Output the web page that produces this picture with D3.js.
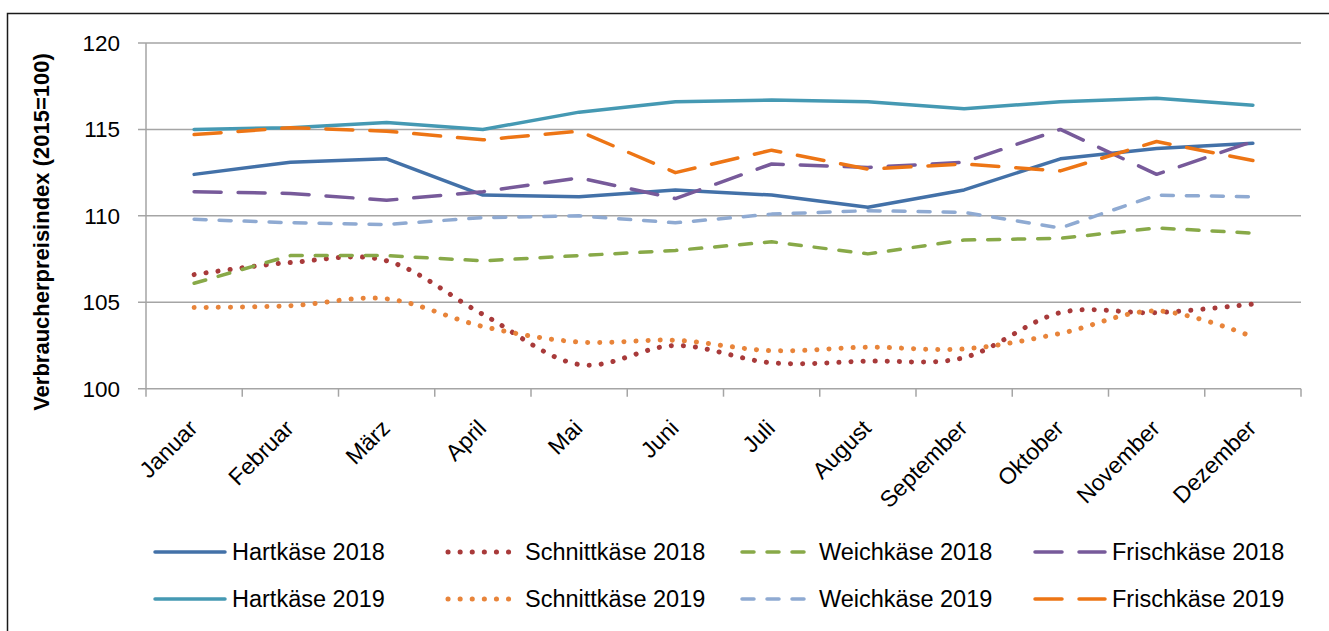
<!DOCTYPE html>
<html lang="de">
<head>
<meta charset="UTF-8">
<script src="https://d3js.org/d3.v7.min.js"></script>
<title>Verbraucherpreisindex Käse</title>
<style>
  body { margin: 0; background: #fff; }
  text { font-family: "Liberation Sans", Arial, sans-serif; fill: #000; }
</style>
</head>
<body>
<div id="chart"></div>
<script>
// months (category axis)
var months = ["Januar", "Februar", "März", "April", "Mai", "Juni", "Juli",
              "August", "September", "Oktober", "November", "Dezember"];
var yTicks = [100, 105, 110, 115, 120];

// index values per series
var hart2018      = [112.4, 113.1, 113.3, 111.2, 111.1, 111.5, 111.2, 110.5, 111.5, 113.3, 113.9, 114.2];
var schnitt2018   = [106.6, 107.3, 107.4, 104.3, 101.4, 102.5, 101.5, 101.6, 101.8, 104.4, 104.4, 104.9];
var weich2018     = [106.1, 107.7, 107.7, 107.4, 107.7, 108.0, 108.5, 107.8, 108.6, 108.7, 109.3, 109.0];
var frisch2018    = [111.4, 111.3, 110.9, 111.4, 112.2, 111.0, 113.0, 112.8, 113.1, 115.0, 112.4, 114.3];
var hart2019      = [115.0, 115.1, 115.4, 115.0, 116.0, 116.6, 116.7, 116.6, 116.2, 116.6, 116.8, 116.4];
var schnitt2019   = [104.7, 104.8, 105.2, 103.6, 102.7, 102.8, 102.2, 102.4, 102.3, 103.2, 104.5, 103.0];
var weich2019     = [109.8, 109.6, 109.5, 109.9, 110.0, 109.6, 110.1, 110.3, 110.2, 109.3, 111.2, 111.1];
var frisch2019    = [114.7, 115.1, 114.9, 114.4, 114.9, 112.5, 113.8, 112.7, 113.0, 112.6, 114.3, 113.2];

var series = [
  { name: "Hartkäse 2018",    values: hart2018,    color: "#4371a8", style: "solid" },
  { name: "Schnittkäse 2018", values: schnitt2018, color: "#a83a3a", style: "dot" },
  { name: "Weichkäse 2018",   values: weich2018,   color: "#88a948", style: "dash" },
  { name: "Frischkäse 2018",  values: frisch2018,  color: "#775a9a", style: "longdash" },
  { name: "Hartkäse 2019",    values: hart2019,    color: "#4599b3", style: "solid" },
  { name: "Schnittkäse 2019", values: schnitt2019, color: "#e8843a", style: "dot" },
  { name: "Weichkäse 2019",   values: weich2019,   color: "#8faad2", style: "dash" },
  { name: "Frischkäse 2019",  values: frisch2019,  color: "#ed7515", style: "longdash" }
];

var width = 1329, height = 631;
var plot = { left: 146, right: 1301, top: 43, bottom: 388.7 };

var svg = d3.select("#chart").append("svg")
    .attr("width", width)
    .attr("height", height);

svg.append("rect").attr("width", width).attr("height", height).attr("fill", "#fff");

// outer frame (runs off right and bottom edge like the original)
svg.append("rect")
    .attr("x", 7.5).attr("y", 13.5)
    .attr("width", 1400).attr("height", 700)
    .attr("fill", "none")
    .attr("stroke", "#1a1a1a")
    .attr("stroke-width", 1.5);

var x = d3.scaleBand().domain(months).range([plot.left, plot.right]).padding(0);
var y = d3.scaleLinear().domain([100, 120]).range([plot.bottom, plot.top]);
var cx = function (i) { return x(months[i]) + x.bandwidth() / 2; };

// gridlines + y tick marks
svg.append("g").selectAll("line")
    .data(yTicks)
    .enter().append("line")
    .attr("x1", plot.left - 8).attr("x2", plot.right)
    .attr("y1", function (d) { return y(d); })
    .attr("y2", function (d) { return y(d); })
    .attr("stroke", "#a5a5a5")
    .attr("stroke-width", 1.5);

// y axis line
svg.append("line")
    .attr("x1", plot.left).attr("x2", plot.left)
    .attr("y1", plot.top).attr("y2", plot.bottom)
    .attr("stroke", "#a5a5a5").attr("stroke-width", 1.5);

svg.append("g").selectAll("text")
    .data(yTicks)
    .enter().append("text")
    .attr("x", 120)
    .attr("y", function (d) { return y(d); })
    .attr("dy", "0.35em")
    .attr("text-anchor", "end")
    .style("font-size", "22.5px")
    .text(function (d) { return d; });

// x axis: ticks between categories
var bounds = months.map(function (m) { return x(m); }).concat([plot.right]);
svg.append("g").selectAll("line")
    .data(bounds)
    .enter().append("line")
    .attr("x1", function (d) { return d; })
    .attr("x2", function (d) { return d; })
    .attr("y1", plot.bottom).attr("y2", plot.bottom + 8)
    .attr("stroke", "#a5a5a5").attr("stroke-width", 1.5);

svg.append("g").selectAll("text")
    .data(months)
    .enter().append("text")
    .attr("transform", function (d, i) {
        return "translate(" + (cx(i) - 1) + "," + 424 + ") rotate(-45)";
    })
    .attr("dy", "0.35em")
    .attr("text-anchor", "end")
    .style("font-size", "23px")
    .text(function (d) { return d; });

// y axis title
svg.append("text")
    .attr("transform", "translate(49,232) rotate(-90)")
    .attr("text-anchor", "middle")
    .style("font-size", "22px")
    .style("font-weight", "bold")
    .text("Verbraucherpreisindex (2015=100)");

function dashFor(style) {
    if (style === "dot") return "0.1,12";
    if (style === "dash") return "12,13";
    if (style === "longdash") return "27,17";
    return null;
}
function widthFor(style) { return style === "dot" ? 5 : 3.5; }

var lineStraight = d3.line()
    .x(function (d, i) { return cx(i); })
    .y(function (d) { return y(d); });
var lineSmooth = d3.line()
    .x(function (d, i) { return cx(i); })
    .y(function (d) { return y(d); })
    .curve(d3.curveCardinal.tension(0));

svg.append("g").selectAll("path")
    .data(series)
    .enter().append("path")
    .attr("d", function (s) { return s.style === "dot" ? lineSmooth(s.values) : lineStraight(s.values); })
    .attr("fill", "none")
    .attr("stroke", function (s) { return s.color; })
    .attr("stroke-width", function (s) { return widthFor(s.style); })
    .attr("stroke-linecap", "round")
    .attr("stroke-linejoin", "round")
    .attr("stroke-dasharray", function (s) { return dashFor(s.style); });

// legend: 4 columns, 2 rows (2018 top, 2019 bottom)
var legCols = [155, 448, 742, 1035];
var legRows = [552, 599];
var leg = svg.append("g").selectAll("g")
    .data(series)
    .enter().append("g")
    .attr("transform", function (s, i) {
        return "translate(" + legCols[i % 4] + "," + legRows[Math.floor(i / 4)] + ")";
    });
leg.append("line")
    .attr("x1", 0).attr("x2", 70)
    .attr("y1", 0).attr("y2", 0)
    .attr("stroke", function (s) { return s.color; })
    .attr("stroke-width", function (s) { return widthFor(s.style); })
    .attr("stroke-linecap", "round")
    .attr("stroke-dasharray", function (s) { return dashFor(s.style); });
leg.append("text")
    .attr("x", 77)
    .attr("dy", "0.35em")
    .style("font-size", "23.5px")
    .text(function (s) { return s.name; });
</script>
</body>
</html>
